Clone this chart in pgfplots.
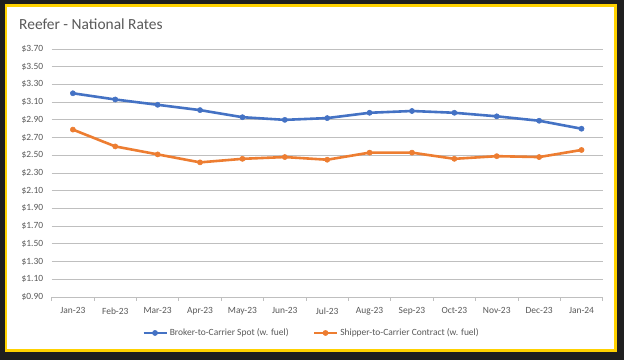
\documentclass[border=0pt]{standalone}
\usepackage{fontspec}
\setmainfont{Carlito}
\usepackage{pgfplots}
\pgfplotsset{compat=1.18}
\definecolor{txt}{HTML}{595959}
\definecolor{grid}{HTML}{D9D9D9}
\definecolor{axln}{HTML}{BFBFBF}
\definecolor{sblue}{HTML}{4472C4}
\definecolor{sorange}{HTML}{ED7D31}
\definecolor{frame}{HTML}{FFD200}
\definecolor{bg}{HTML}{1F1F1F}
\begin{document}
\begin{tikzpicture}
\fill[bg] (0bp,0bp) rectangle (624bp,360bp);
\useasboundingbox (0bp,0bp) rectangle (624bp,360bp);
\draw[frame, line width=2.2bp, fill=white] (6bp,9.5bp) rectangle (615.5bp,354.5bp);
\node[anchor=base west, text=txt, font=\fontsize{15.5}{18}\selectfont, inner sep=0] at (19bp,330bp) {Reefer - National Rates};
\begin{axis}[
  at={(51.7bp,63bp)}, anchor=south west,
  scale only axis, width=551bp, height=248bp,
  xmin=-0.5, xmax=12.5, ymin=0.9, ymax=3.7,
  xtick={0,...,12},
  xticklabels={Jan-23,Feb-23,Mar-23,Apr-23,May-23,Jun-23,Jul-23,Aug-23,Sep-23,Oct-23,Nov-23,Dec-23,Jan-24},
  minor xtick={-0.5,0.5,...,12.5},
  xminorgrids=false, xmajorgrids=false,
  minor x tick style={draw=axln, line width=0.8bp},
  minor tick length=4bp,
  xtick align=outside,
  major x tick style={draw=none},
  ytick={0.9,1.1,...,3.71},
  ymajorgrids, grid style={grid, line width=0.9bp},
  major y tick style={draw=none},
  axis line style={draw=none},
  axis x line*=bottom, axis y line*=left,
  xticklabel style={text=txt, font=\fontsize{9.5}{11}\selectfont, yshift=-3bp},
  yticklabel style={text=txt, font=\fontsize{9.5}{11}\selectfont, xshift=-5bp},
  yticklabel={\$\pgfmathprintnumber[fixed,fixed zerofill,precision=2]{\tick}},
  /pgf/number format/assume math mode=true,
  legend style={at={(0.4715,-0.145)}, anchor=center, draw=none, fill=none,
    font=\fontsize{9.5}{11}\selectfont, text=txt, legend columns=2,
    /tikz/every even column/.append style={column sep=22bp}},
  legend image code/.code={\draw[#1, mark repeat=2, mark phase=2] plot coordinates {(0bp,0bp)(11.5bp,0bp)(23bp,0bp)};},
  clip=false,
]
\draw[axln, line width=0.8bp] (axis cs:-0.5,0.9) -- (axis cs:12.5,0.9);
\addplot[sblue, line width=2.6bp, mark=*, mark size=2.6bp, mark options={line width=0.5bp}] coordinates {
(0,3.20)(1,3.13)(2,3.07)(3,3.01)(4,2.93)(5,2.90)(6,2.92)(7,2.98)(8,3.00)(9,2.98)(10,2.94)(11,2.89)(12,2.80)};
\addlegendentry{Broker-to-Carrier Spot (w. fuel)}
\addplot[sorange, line width=2.6bp, mark=*, mark size=2.6bp, mark options={line width=0.5bp}] coordinates {
(0,2.79)(1,2.60)(2,2.51)(3,2.42)(4,2.46)(5,2.48)(6,2.45)(7,2.53)(8,2.53)(9,2.46)(10,2.49)(11,2.48)(12,2.56)};
\addlegendentry{Shipper-to-Carrier Contract (w. fuel)}
\end{axis}
\end{tikzpicture}
\end{document}
